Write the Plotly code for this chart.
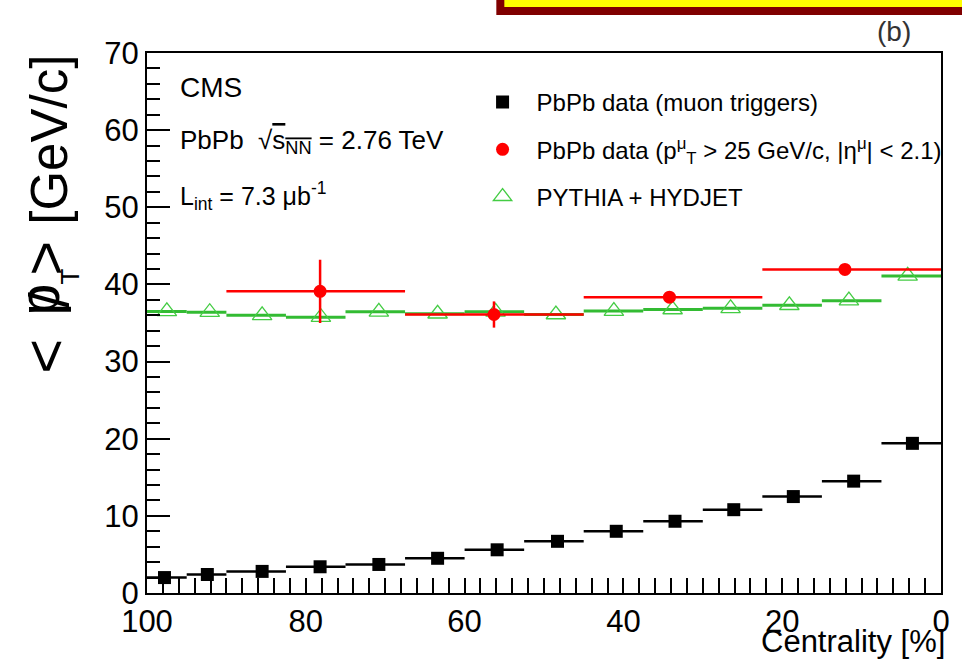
import plotly.graph_objects as go

# ---- data ----
# 14 centrality bins (edges in %)
bin_lo = [95, 90, 82.5, 75, 67.5, 60, 52.5, 45, 37.5, 30, 22.5, 15, 7.5, 0]
bin_hi = [100, 95, 90, 82.5, 75, 67.5, 60, 52.5, 45, 37.5, 30, 22.5, 15, 7.5]

black_x = [97.8, 92.4, 85.5, 78.2, 70.8, 63.4, 55.9, 48.3, 40.9, 33.5, 26.1, 18.6, 11.0, 3.6]
black_y = [2.0, 2.4, 2.8, 3.4, 3.7, 4.5, 5.6, 6.7, 8.0, 9.3, 10.8, 12.5, 14.5, 19.4]

green_x = [97.5, 92.1, 85.5, 78.1, 70.8, 63.4, 56.1, 48.5, 41.2, 33.8, 26.5, 19.1, 11.6, 4.2]
green_y = [36.5, 36.4, 36.0, 35.75, 36.45, 36.2, 36.45, 36.1, 36.55, 36.75, 36.9, 37.3, 37.9, 41.1]

# 4 wide centrality bins
red_lo = [67.5, 45, 22.5, 0]
red_hi = [90, 67.5, 45, 22.5]
red_x = [78.2, 56.3, 34.2, 12.1]
red_y = [39.1, 36.1, 38.35, 41.95]
red_err = [4.1, 1.7, 0.5, 0.4]

FONT = "Liberation Sans, Arial, sans-serif"

# plot frame in pixels (for placing free text)
L, R, T, B = 147, 947, 53, 593
def px(xp):
    return (xp - L) / (R - L)
def py(yp):
    return (B - yp) / (B - T)

fig = go.Figure()

fig.add_trace(go.Scatter(
    x=green_x, y=green_y, mode="markers", name="PYTHIA + HYDJET",
    legendgroup="g", legendrank=3,
    marker=dict(symbol="triangle-up-open", size=17, color="#44cc44", line=dict(width=1.3, color="#44cc44")),
    error_x=dict(type="data", symmetric=False,
                 array=[h - x for h, x in zip(bin_hi, green_x)],
                 arrayminus=[x - l for l, x in zip(bin_lo, green_x)],
                 color="#33bb33", thickness=3, width=0),
))

fig.add_trace(go.Scatter(
    x=red_x, y=red_y, mode="markers",
    name="PbPb data (p<sup>μ</sup><sub>T</sub> &gt; 25 GeV/c, |η<sup>μ</sup>| &lt; 2.1)",
    legendgroup="r", legendrank=2,
    marker=dict(symbol="circle", size=13, color="#ff0000"),
    error_x=dict(type="data", symmetric=False,
                 array=[h - x for h, x in zip(red_hi, red_x)],
                 arrayminus=[x - l for l, x in zip(red_lo, red_x)],
                 color="#ff0000", thickness=2.5, width=0),
    error_y=dict(type="data", array=red_err, color="#ff0000", thickness=2.5, width=0),
))

fig.add_trace(go.Scatter(
    x=black_x, y=black_y, mode="markers", name="PbPb data (muon triggers)",
    legendgroup="b", legendrank=1,
    marker=dict(symbol="square", size=13, color="black"),
    error_x=dict(type="data", symmetric=False,
                 array=[h - x for h, x in zip(bin_hi, black_x)],
                 arrayminus=[x - l for l, x in zip(bin_lo, black_x)],
                 color="black", thickness=2.5, width=0),
))

def txt(text, x, y, size, angle=0, xa="center", ya="middle", color="black"):
    return dict(text=text, xref="paper", yref="paper", x=px(x), y=py(y),
                xanchor=xa, yanchor=ya, textangle=angle, showarrow=False,
                font=dict(size=size, family=FONT, color=color))

fig.update_layout(
    width=962, height=661,
    margin=dict(l=L, r=962 - R, t=T, b=661 - B),
    paper_bgcolor="white", plot_bgcolor="white",
    font=dict(family=FONT, color="black"),
    showlegend=True,
    legend=dict(x=px(505 - 34), y=0.95, xanchor="left", yanchor="top",
                font=dict(size=24, family=FONT, color="black"),
                bgcolor="rgba(0,0,0,0)", tracegroupgap=13, itemwidth=58),
    xaxis=dict(range=[100, 0], tickvals=[0, 20, 40, 60, 80, 100],
               ticks="inside", ticklen=15, tickwidth=1.5, tickcolor="black",
               minor=dict(dtick=2, ticks="inside", ticklen=15, tickwidth=1.5, tickcolor="black"),
               showline=True, linecolor="black", linewidth=2, mirror=True,
               showgrid=False, zeroline=False,
               tickfont=dict(size=31, family=FONT, color="black")),
    yaxis=dict(range=[0, 70], dtick=10,
               ticks="inside", ticklen=23, tickwidth=1.5, tickcolor="black",
               minor=dict(dtick=2, ticks="inside", ticklen=13, tickwidth=1.5, tickcolor="black"),
               showline=True, linecolor="black", linewidth=2, mirror=True,
               showgrid=False, zeroline=False,
               tickfont=dict(size=31, family=FONT, color="black")),
    shapes=[dict(type="rect", xref="paper", yref="paper",
                 x0=px(503), x1=1.1, y0=py(11), y1=1.4,
                 line=dict(color="#800000", width=8), fillcolor="#ffff00", layer="above")],
    annotations=[
        txt("(b)", 900, 31, 28, color="#333333"),
        txt("Centrality [%]", 953, 641, 31, xa="right"),
        # y-axis title pieces:  < p/_T >  [GeV/c]
        txt("[GeV/c]", 48, 140, 51, angle=-90),
        txt("&lt;", 44, 356, 60, angle=-90),
        txt("p", 37, 300, 58, angle=-90),
        txt("/", 47, 300, 56, angle=-90),
        txt("T", 69, 277, 26, angle=-90),
        txt("&gt;", 44, 258, 60, angle=-90),
        # CMS labels
        txt("CMS", 178, 88, 28, xa="left"),
        txt("PbPb\u00a0\u00a0√<span style='text-decoration:overline'>s<sub>NN</sub></span> = 2.76 TeV",
            178, 141, 26, xa="left"),
        txt("L<sub>int</sub> = 7.3 μb<sup>-1</sup>", 178, 196, 25, xa="left"),
    ],
)

fig.write_html("out.html")
